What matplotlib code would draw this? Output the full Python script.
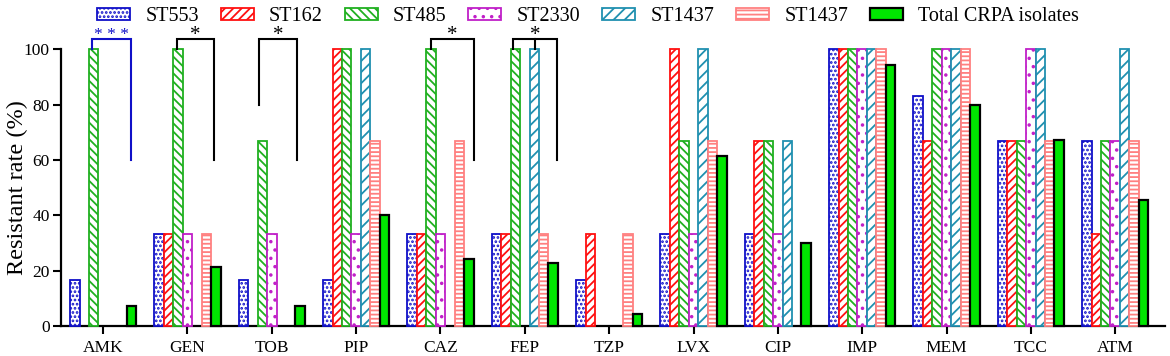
import matplotlib
matplotlib.use("Agg")
import matplotlib.pyplot as plt
import numpy as np

plt.rcParams['font.family'] = ['Liberation Serif', 'DejaVu Serif']
plt.rcParams['hatch.linewidth'] = 1.3

categories = ["AMK", "GEN", "TOB", "PIP", "CAZ", "FEP", "TZP", "LVX", "CIP", "IMP", "MEM", "TCC", "ATM"]
series_names = ["ST553", "ST162", "ST485", "ST2330", "ST1437", "ST1437", "Total CRPA isolates"]

st553  = [16.7, 33.3, 16.7, 16.7, 33.3, 33.3, 16.7, 33.3, 33.3, 100, 83.3, 66.7, 66.7]
st162  = [0, 33.3, 0, 100, 33.3, 33.3, 33.3, 100, 66.7, 100, 66.7, 66.7, 33.3]
st485  = [100, 100, 66.7, 100, 100, 100, 0, 66.7, 66.7, 100, 100, 66.7, 66.7]
st2330 = [0, 33.3, 33.3, 33.3, 33.3, 0, 0, 33.3, 33.3, 100, 100, 100, 66.7]
st1437a = [0, 0, 0, 100, 0, 100, 0, 100, 66.7, 100, 100, 100, 100]
st1437b = [0, 33.3, 0, 66.7, 66.7, 33.3, 33.3, 66.7, 0, 100, 100, 66.7, 66.7]
total  = [7.1, 21.4, 7.1, 40.0, 24.3, 22.9, 4.3, 61.4, 30.0, 94.3, 80.0, 67.1, 45.7]

series = [st553, st162, st485, st2330, st1437a, st1437b, total]
edge_colors = ["#1010C8", "#FF1010", "#20B020", "#C020C8", "#2090B0", "#FF8080", "#000000"]
face_colors = ["white", "white", "white", "white", "white", "white", "#00E600"]
hatches = ["....", "////", "\\\\\\\\", "..", "///", "----", None]

# significance brackets: (group, left offset, right offset, left leg end, right leg end, label, colour, middle offset, size)
brackets = [
    (0, -0.127, 0.328, 100, 60, "* * *", "#1010C8", None, 12.5),
    (1, -0.126, 0.317, 100, 60, "*", "black", None, 15),
    (2, -0.150, 0.296, 80, 60, "*", "black", None, 15),
    (4, -0.110, 0.400, 100, 60, "*", "black", None, 15),
    (5, -0.135, 0.380, 100, 60, "*", "black", 0.122, 15),
]

fig = plt.figure(figsize=(11.7, 3.56), dpi=100)
ax = fig.add_axes([0.0521, 0.0843, 0.9436, 0.7772])

x = np.arange(len(categories))
w = 0.112
handles = []
for i, (vals, ec, fc, h, name) in enumerate(zip(series, edge_colors, face_colors, hatches, series_names)):
    lw = 1.3 if i < 6 else 1.6
    v = np.array(vals, dtype=float)
    v = np.where(v > 0, v, np.nan)
    b = ax.bar(x + (i - 3) * w, v, width=w, facecolor=fc, edgecolor=ec,
               hatch=h, linewidth=lw, clip_on=False, label=name, zorder=3)
    handles.append(b)

ytop = 103.6
for g, lo, ro, lend, rend, lab, col, mo, fs in brackets:
    xl, xr = g + lo, g + ro
    ax.plot([xl, xl, xr, xr], [lend, ytop, ytop, rend], color=col, lw=1.5,
            clip_on=False, zorder=4, solid_joinstyle='miter')
    if mo is not None:
        ax.plot([g + mo, g + mo], [ytop, lend], color=col, lw=1.5, clip_on=False, zorder=4)
    ax.text((xl + xr) / 2, 103.6 if fs < 15 else 103.2, lab, color=col, ha='center',
            va='baseline', fontsize=fs, clip_on=False)

ax.set_xlim(-0.5, 12.59)
ax.set_ylim(0, 100)
ax.set_yticks([0, 20, 40, 60, 80, 100])
ax.set_xticks(x)
ax.set_xticklabels(categories, fontsize=12.5)
ax.tick_params(axis='y', labelsize=12.5, length=6, width=1.5, direction='out', pad=2)
ax.tick_params(axis='x', length=6, width=1.5, direction='out', pad=4)
for s in ['top', 'right']:
    ax.spines[s].set_visible(False)
for s in ['left', 'bottom']:
    ax.spines[s].set_linewidth(1.6)
ax.set_ylabel("Resistant rate (%)", fontsize=17.5)
ax.yaxis.set_label_coords(-0.030, 0.5)

fig.legend(handles=handles, labels=series_names, loc='center', bbox_to_anchor=(0.5026, 0.953),
           ncol=7, frameon=False, fontsize=14.5, handlelength=1.64, handleheight=0.55,
           handletextpad=0.75, columnspacing=1.09)

fig.savefig("out.png", dpi=100)
